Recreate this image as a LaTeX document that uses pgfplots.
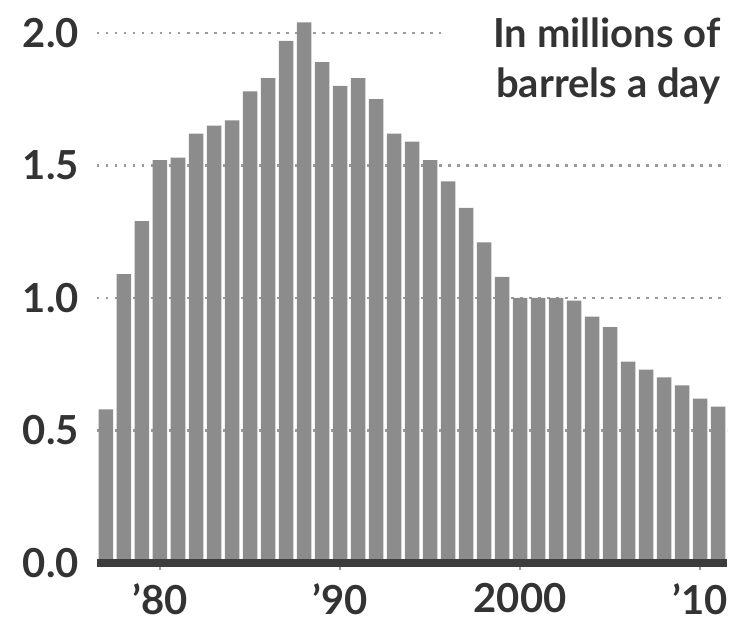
\documentclass[border=0pt]{standalone}
\usepackage{fontspec}
\setmainfont{Lato}
\usepackage{pgfplots}
\pgfplotsset{compat=1.18}
\definecolor{bargray}{HTML}{8C8C8C}
\definecolor{txt}{HTML}{333333}
\definecolor{gridgray}{HTML}{9A9A9A}
\definecolor{basegray}{HTML}{3C3C3C}
\begin{document}
\begin{tikzpicture}
\useasboundingbox (-97bp,-60bp) rectangle (634bp,563bp);
\begin{axis}[
  scale only axis, width=630bp, height=545.9bp,
  at={(0,0)}, anchor=south west,
  xmin=1976.5, xmax=2011.5, ymin=0, ymax=2.06,
  axis line style={draw=none},
  ytick={0,0.5,1,1.5,2}, yticklabels={0.0,0.5,1.0,1.5,2.0},
  xtick={1980,1990,2000,2010}, xticklabels={’80,’90,2000,’10},
  xtick pos=bottom, ytick pos=left,
  ytick style={draw=none},
  xtick style={draw=gridgray, line width=1.5bp},
  xtick align=outside, major tick length=7bp,
  tick label style={font=\fontsize{40bp}{48bp}\selectfont\bfseries, text=txt, inner sep=0pt},
  yticklabel style={anchor=east, xshift=-18bp},
  xticklabel style={anchor=north, yshift=-13bp},
  clip=false,
]
\draw[gridgray, line width=2.5bp, dash pattern=on 2.5bp off 6.5bp] (axis cs:1976.5,1.0) -- (axis cs:2011.5,1.0);
\draw[gridgray, line width=2.5bp, dash pattern=on 2.5bp off 6.5bp] (axis cs:1976.5,1.5) -- (axis cs:2011.5,1.5);
\draw[gridgray, line width=2.5bp, dash pattern=on 2.5bp off 6.5bp] (axis cs:1976.5,2.0) -- (axis cs:1995.6,2.0);
\draw[gridgray, line width=2.5bp, dash pattern=on 2.5bp off 6.5bp] (axis cs:1976.5,0.5) -- (axis cs:2011.5,0.5);
\addplot[ybar, bar width=14.5bp, fill=bargray, draw=none] coordinates {
(1977,0.58) (1978,1.09) (1979,1.29) (1980,1.52) (1981,1.53) (1982,1.62)
(1983,1.65) (1984,1.67) (1985,1.78) (1986,1.83) (1987,1.97) (1988,2.04)
(1989,1.89) (1990,1.80) (1991,1.83) (1992,1.75) (1993,1.62) (1994,1.59)
(1995,1.52) (1996,1.44) (1997,1.34) (1998,1.21) (1999,1.08) (2000,1.00)
(2001,1.00) (2002,1.00) (2003,0.99) (2004,0.93) (2005,0.89) (2006,0.76)
(2007,0.73) (2008,0.70) (2009,0.67) (2010,0.62) (2011,0.59)
};
\draw[basegray, line width=7bp] (axis cs:1976.5,0) -- (axis cs:2011.5,0);
\node[anchor=base east, inner sep=0pt, text=txt, font=\fontsize{40bp}{48bp}\selectfont\bfseries] at (rel axis cs:0.99,0.945) {In millions of};
\node[anchor=base east, inner sep=0pt, text=txt, font=\fontsize{40bp}{48bp}\selectfont\bfseries] at (rel axis cs:0.99,0.852) {barrels a day};
\end{axis}
\end{tikzpicture}
\end{document}
